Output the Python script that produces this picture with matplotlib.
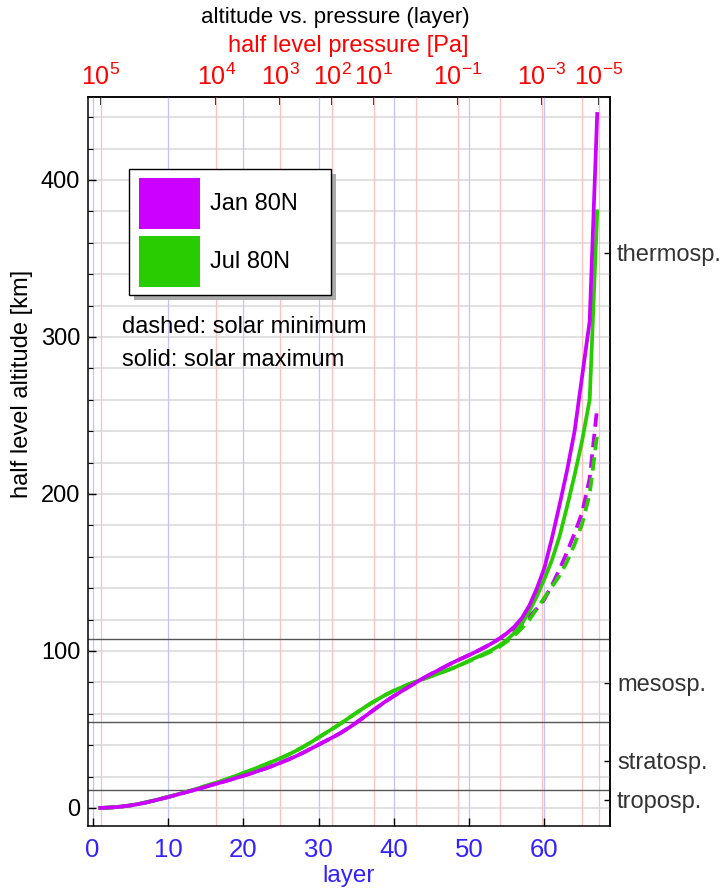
import matplotlib
matplotlib.use('Agg')
import matplotlib.pyplot as plt
from matplotlib.patches import Rectangle
from matplotlib.ticker import MultipleLocator

plt.rcParams['font.family'] = ['Liberation Sans', 'DejaVu Sans']
plt.rcParams['mathtext.fontset'] = 'custom'
plt.rcParams['mathtext.rm'] = 'Liberation Sans'
plt.rcParams['mathtext.it'] = 'Liberation Sans:italic'
plt.rcParams['mathtext.bf'] = 'Liberation Sans:bold'

# ---------------- data ----------------
layers = list(range(1, 68))

jan_max = [0.0, 0.2, 0.5, 1.0, 1.6, 2.4, 3.4, 4.5, 5.7, 6.9,
           8.2, 9.5, 10.8, 12.1, 13.5, 14.9, 16.2, 17.6, 19.0, 20.5,
           22.0, 23.6, 25.2, 27.0, 28.9, 30.9, 33.0, 35.3, 37.8, 40.3,
           42.8, 45.3, 48.0, 51.0, 54.3, 57.8, 61.3, 64.8, 68.2, 71.3,
           74.3, 77.2, 80.1, 82.9, 85.5, 88.0, 90.5, 93.0, 95.2, 97.4,
           99.7, 102.2, 104.8, 107.8, 111.2, 115.5, 121.0, 129.0, 140.0, 153.0,
           172.0, 193.0, 215.0, 240.0, 275.0, 310.0, 442.0]

jul_max = [0.0, 0.2, 0.5, 1.0, 1.6, 2.5, 3.5, 4.6, 5.8, 7.0,
           8.3, 9.7, 11.0, 12.5, 14.0, 15.5, 17.0, 18.6, 20.4, 22.2,
           24.0, 25.9, 27.8, 29.8, 31.8, 34.0, 36.4, 39.0, 41.9, 44.9,
           47.9, 50.9, 54.0, 57.3, 60.5, 63.7, 66.8, 69.6, 72.3, 74.7,
           76.8, 78.8, 80.6, 82.3, 84.0, 85.7, 87.5, 89.4, 91.5, 93.8,
           96.0, 98.3, 100.6, 103.5, 107.0, 111.5, 117.5, 125.5, 135.0, 146.0,
           158.0, 173.0, 192.0, 212.0, 234.0, 260.0, 380.0]

# solar minimum: identical to solar maximum in the lower layers
jan_min = jan_max[:55] + [113.8, 117.5, 122.0, 127.0, 133.0, 142.0,
                          152.0, 163.0, 175.0, 188.0, 210.0, 255.0]
jul_min = jul_max[:49] + [93.5, 95.6, 97.7, 99.9, 102.6, 106.0, 110.0,
                          114.5, 120.0, 127.0, 134.0, 141.0, 148.0, 157.0,
                          168.0, 181.0, 200.0, 238.0]

series_names = ['Jan 80N', 'Jul 80N']
series_colors = ['#cc00ff', '#28cc00']

# pressure decades (exponent) and the layer position where they occur
pressure_exp = [5, 4, 3, 2, 1, 0, -1, -2, -3, -4, -5]
pressure_layer = [1.06, 16.4, 24.9, 31.8, 37.3, 43.0, 48.5, 54.1, 59.65, 65.0, 67.2]
labeled_exp = [5, 4, 3, 2, 1, -1, -3, -5]

# atmospheric layer boundaries and labels [km]
zone_bounds = [11.7, 55.0, 107.8]
zone_names = ['troposp.', 'stratosp.', 'mesosp.', 'thermosp.']
zone_pos = [5.3, 30.1, 79.8, 353.6]

# ---------------- figure ----------------
W, H = 724, 889
fig = plt.figure(figsize=(W / 100, H / 100), dpi=100)


def fx(x):
    return x / W


def fy(y):
    return 1 - y / H


ax_l, ax_r, ax_t, ax_b = 88, 610, 96.7, 825.7
ax = fig.add_axes([fx(ax_l), fy(ax_b), fx(ax_r - ax_l), (ax_b - ax_t) / H])
ax.set_xlim(-0.62, 68.7)
ax.set_ylim(-11.3, 453.0)

# grid
for yv in range(0, 460, 20):
    ax.axhline(yv, color='#dcdcdc', lw=1.2, zorder=0.5)
for xv in range(0, 70, 10):
    ax.axvline(xv, color='#c2c2ff', lw=0.9, zorder=0.6)
for xv in pressure_layer:
    ax.axvline(xv, color='#ffc0c0', lw=0.9, zorder=0.6)
for yv in zone_bounds:
    ax.axhline(yv, color='#555555', lw=1.0, zorder=1)

# curves
lw = 2.7
ax.plot(layers, jan_min, color=series_colors[0], lw=lw, dashes=(3.6, 1.9), zorder=3)
ax.plot(layers, jul_min, color=series_colors[1], lw=lw, dashes=(3.6, 1.9), zorder=3)
ax.plot(layers, jul_max, color=series_colors[1], lw=lw, zorder=4)
ax.plot(layers, jan_max, color=series_colors[0], lw=lw, zorder=4)

# axes styling
for s in ax.spines.values():
    s.set_linewidth(1.1)
ax.set_xticks(range(0, 70, 10))
ax.set_yticks(range(0, 500, 100))
ax.yaxis.set_minor_locator(MultipleLocator(20))
ax.tick_params(axis='x', direction='in', length=6, width=1, pad=9,
               labelsize=18.5, labelcolor='#3322ff', top=False)
ax.tick_params(axis='y', which='major', direction='in', length=6, width=1, pad=5.5,
               labelsize=17, labelcolor='black', right=False)
ax.tick_params(axis='y', which='minor', direction='in', length=3.5, width=0.8, right=False)

# top axis: pressure
top = ax.secondary_xaxis('top')
top.set_xticks([pressure_layer[pressure_exp.index(e)] for e in labeled_exp],
               [r'$10^{%d}$' % e if e >= 0 else r'$10^{-%d}$' % (-e) for e in labeled_exp])
top.tick_params(direction='in', length=6, width=1.2, pad=5, labelsize=18,
                labelcolor='red', color='black')
top.spines['top'].set_linewidth(1.1)

# right axis: atmosphere zones
right = ax.secondary_yaxis('right')
right.set_yticks(zone_pos, zone_names)
right.tick_params(direction='in', length=4, width=1, pad=5, labelsize=17,
                  labelcolor='#333333')
right.spines['right'].set_linewidth(1.1)

# titles and labels
fig.text(fx(335), fy(18), 'altitude vs. pressure (layer)', fontsize=16,
         ha='center', va='center', color='black')
fig.text(fx(348), fy(46), 'half level pressure [Pa]', fontsize=17,
         ha='center', va='center', color='red')
fig.text(fx(22), fy(384), 'half level altitude [km]', fontsize=17,
         ha='center', va='center', rotation=90, color='black')
fig.text(fx(349), fy(876), 'layer', fontsize=17.5, ha='center', va='center',
         color='#3322ff')

# legend box (drawn manually with shadow)
lx0, ly0, lx1, ly1 = 129, 169, 331, 295
fig.add_artist(Rectangle((fx(lx0 + 5), fy(ly1 + 5)), fx(lx1 - lx0), (ly1 - ly0) / H,
                         transform=fig.transFigure, facecolor='#aaaaaa',
                         edgecolor='none', zorder=10))
fig.add_artist(Rectangle((fx(lx0), fy(ly1)), fx(lx1 - lx0), (ly1 - ly0) / H,
                         transform=fig.transFigure, facecolor='white',
                         edgecolor='black', lw=1.0, zorder=11))
patch_rows = [(178, 229), (236, 287)]
for (py0, py1), name, col in zip(patch_rows, series_names, series_colors):
    fig.add_artist(Rectangle((fx(139), fy(py1)), fx(200 - 139), (py1 - py0) / H,
                             transform=fig.transFigure, facecolor=col,
                             edgecolor='none', zorder=12))
    fig.text(fx(210), fy((py0 + py1) / 2), name, fontsize=17, ha='left',
             va='center', zorder=13)

fig.text(fx(122), fy(327), 'dashed: solar minimum', fontsize=17, ha='left', va='center')
fig.text(fx(122), fy(360), 'solid: solar maximum', fontsize=17, ha='left', va='center')

fig.savefig('out.png', dpi=100)
